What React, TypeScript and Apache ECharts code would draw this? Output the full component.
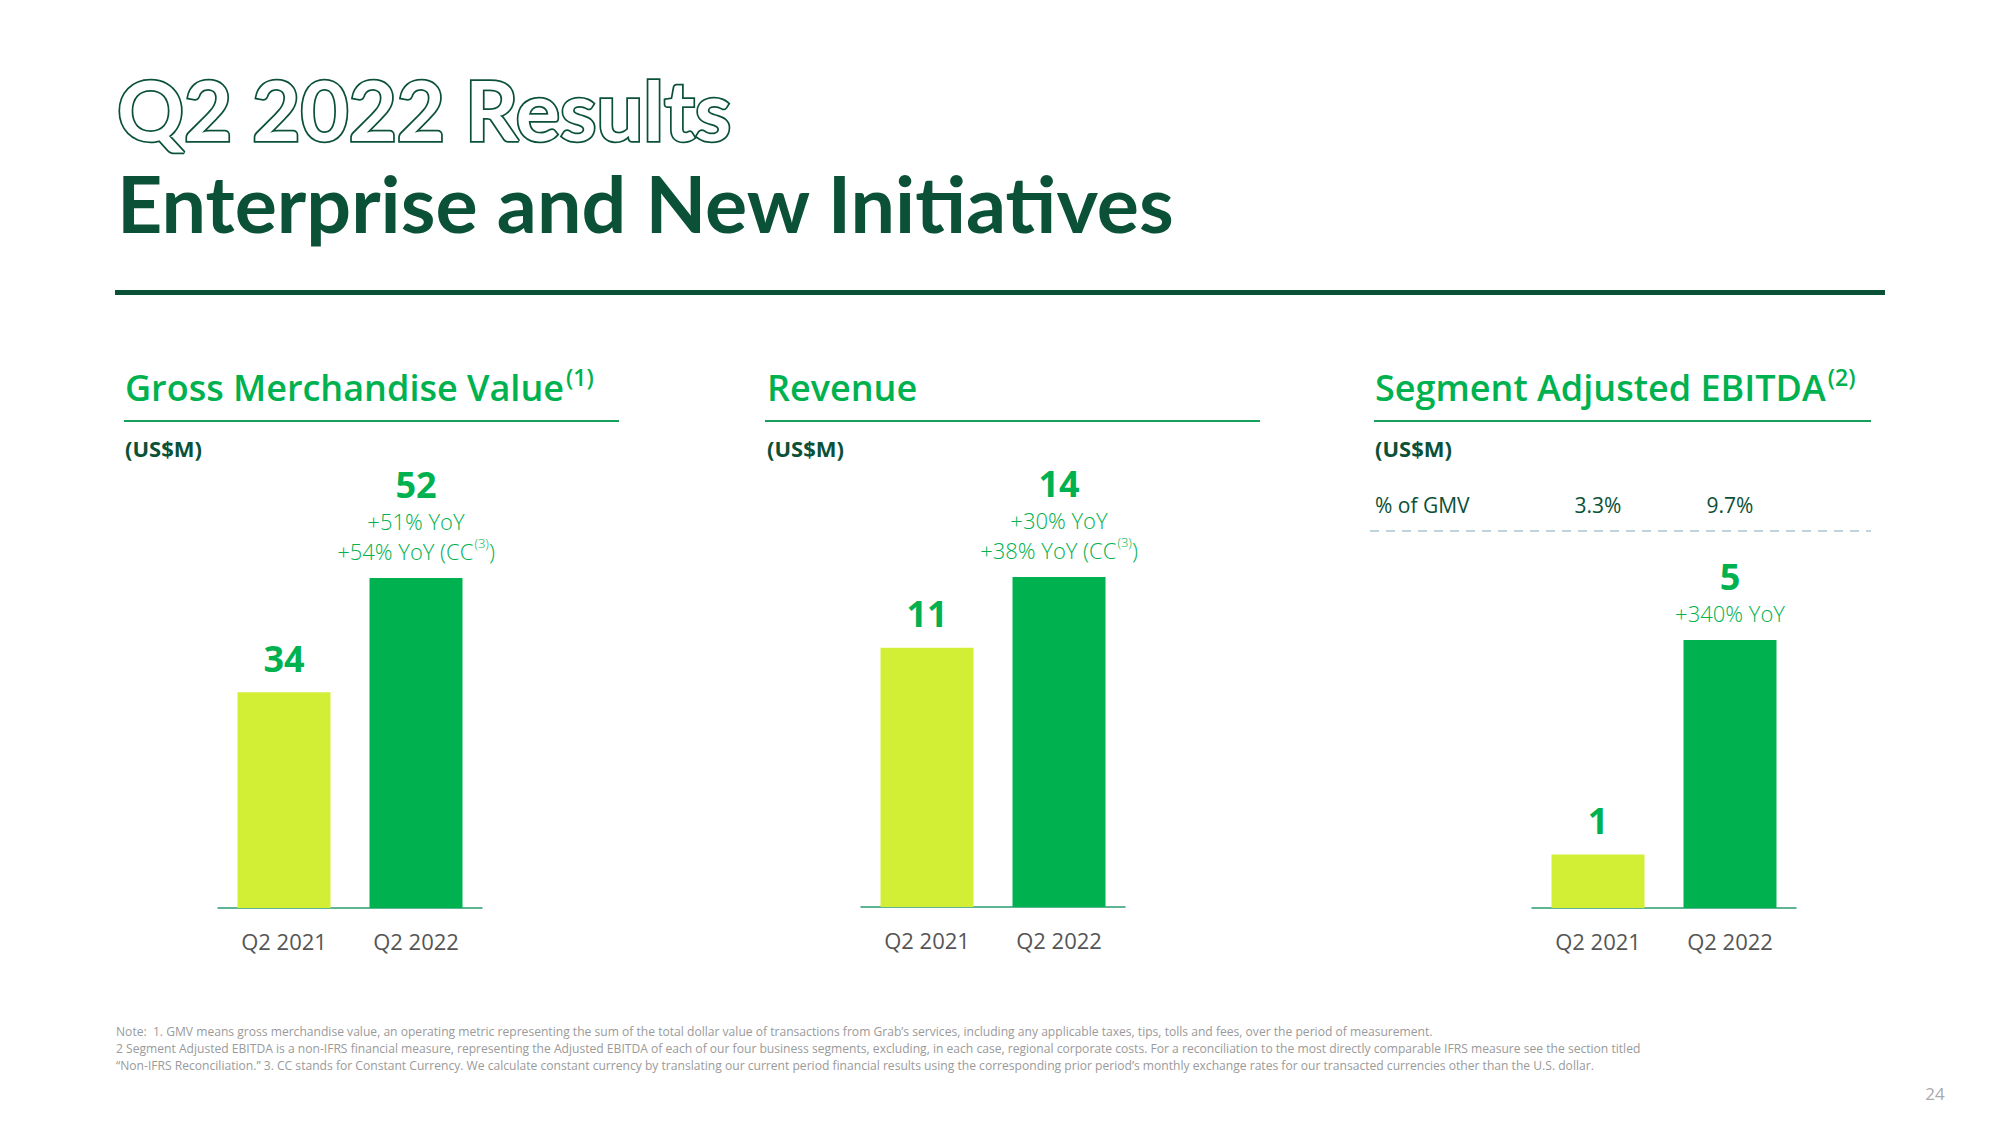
import React, { useEffect, useRef } from "react";
import * as echarts from "echarts";

// ---------- data ----------
const categories = ["Q2 2021", "Q2 2022"];
const gmvValues = [34, 52];
const revenueValues = [11, 14];
const ebitdaValues = [1, 5];
const gmvGrowth = "+51% YoY";
const gmvGrowthCC = "+54% YoY";
const revenueGrowth = "+30% YoY";
const revenueGrowthCC = "+38% YoY";
const ebitdaGrowth = "+340% YoY";
const pctOfGmv = ["3.3%", "9.7%"];

const titleLine1 = "Q2 2022 Results";
const titleLine2 = "Enterprise and New Initiatives";
const panelTitles = ["Gross Merchandise Value", "Revenue", "Segment Adjusted EBITDA"];
const panelSup = ["(1)", "", "(2)"];
const unitLabel = "(US$M)";
const pctRowLabel = "% of GMV";
const footnotes = [
  "Note:  1. GMV means gross merchandise value, an operating metric representing the sum of the total dollar value of transactions from Grab\u2019s services, including any applicable taxes, tips, tolls and fees, over the period of measurement.",
  "2 Segment Adjusted EBITDA is a non-IFRS financial measure, representing the Adjusted EBITDA of each of our four business segments, excluding, in each case, regional corporate costs. For a reconciliation to the most directly comparable IFRS measure see the section titled",
  "\u201CNon-IFRS Reconciliation.\u201D 3. CC stands for Constant Currency. We calculate constant currency by translating our current period financial results using the corresponding prior period\u2019s monthly exchange rates for our transacted currencies other than the U.S. dollar.",
];
const pageNumber = "24";

// ---------- styles ----------
const DARK = "#0b5137";
const GREEN = "#00b14f";
const LIME = "#d3ef35";
const HEAD_FONT = "Lato, 'Open Sans', sans-serif";
const BODY_FONT = "'Open Sans', 'Noto Sans', sans-serif";
const barColors = [LIME, GREEN];

const rich = {
  v: { fontSize: 36, fontWeight: "bold", color: GREEN, lineHeight: 44, fontFamily: BODY_FONT },
  y: { fontSize: 22, fontWeight: 300, color: GREEN, lineHeight: 30, fontFamily: BODY_FONT },
  s: { fontSize: 13, fontWeight: 300, color: GREEN, lineHeight: 13, verticalAlign: "top", fontFamily: BODY_FONT, padding: [0, 0, 0, 1] },
};

function barData(values: number[], topLines: string[]) {
  return values.map((v, i) => ({
    value: v,
    itemStyle: { color: barColors[i] },
    label: {
      show: true,
      position: "top",
      distance: 12,
      align: "center",
      formatter: [`{v|${v}}`, ...(i === values.length - 1 ? topLines : [])].join("\n"),
      rich,
    },
  }));
}

const grids = [
  { left: 218, width: 264, top: 578, height: 330 },
  { left: 861, width: 264, top: 577, height: 330 },
  { left: 1532, width: 264, top: 640, height: 268 },
];
const seriesValues = [gmvValues, revenueValues, ebitdaValues];
const seriesTop = [
  [`{y|${gmvGrowth}}`, `{y|${gmvGrowthCC} (CC}{s|(3)}{y|)}`],
  [`{y|${revenueGrowth}}`, `{y|${revenueGrowthCC} (CC}{s|(3)}{y|)}`],
  [`{y|${ebitdaGrowth}}`],
];

const panelX = [125, 767, 1375];

function buildOption() {
  const xAxes: any[] = grids.map((_, gi) => ({
    type: "category",
    gridIndex: gi,
    data: categories,
    axisLine: { show: true, lineStyle: { color: "#2a9d70", width: 1.5 } },
    axisTick: { show: false },
    axisLabel: { color: "#555555", fontSize: 22, margin: 22, fontFamily: BODY_FONT },
  }));
  xAxes.push({
    type: "category",
    gridIndex: 2,
    position: "top",
    data: pctOfGmv,
    axisLine: { show: false },
    axisTick: { show: false },
    axisLabel: { color: DARK, fontSize: 21, margin: 125, fontFamily: BODY_FONT },
  });
  const yAxes = grids.map((_, gi) => ({
    type: "value",
    gridIndex: gi,
    min: 0,
    max: Math.max(...seriesValues[gi]),
    show: false,
    splitLine: { show: false },
  }));
  const series = grids.map((_, gi) => ({
    type: "bar",
    xAxisIndex: gi,
    yAxisIndex: gi,
    barWidth: 93,
    data: barData(seriesValues[gi], seriesTop[gi]),
  }));

  const graphic: any[] = [
    {
      type: "text",
      x: 117,
      y: 109,
      style: {
        text: titleLine1,
        fontSize: 83,
        fontWeight: "bold",
        fontFamily: HEAD_FONT,
        fill: "#ffffff",
        stroke: DARK,
        lineWidth: 3.5,
        verticalAlign: "middle",
      },
    },
    {
      type: "text",
      x: 117,
      y: 202,
      style: {
        text: titleLine2,
        fontSize: 79,
        fontWeight: "bold",
        fontFamily: HEAD_FONT,
        fill: DARK,
        verticalAlign: "middle",
      },
    },
    { type: "rect", shape: { x: 115, y: 290, width: 1770, height: 5 }, style: { fill: DARK } },
  ];
  const underlines = [
    [124, 619],
    [765, 1260],
    [1374, 1871],
  ];
  panelTitles.forEach((t, i) => {
    graphic.push({
      type: "text",
      x: panelX[i],
      y: 387,
      style: {
        text: panelSup[i] ? `{h|${t}}{p|${panelSup[i]}}` : `{h|${t}}`,
        rich: {
          h: { fontSize: 36, fontWeight: 600, fill: GREEN, fontFamily: BODY_FONT, lineHeight: 44 },
          p: { fontSize: 23, fontWeight: 600, fill: GREEN, fontFamily: BODY_FONT, lineHeight: 23, verticalAlign: "top", padding: [0, 0, 0, 2] },
        },
        verticalAlign: "middle",
      },
    });
    graphic.push({
      type: "line",
      shape: { x1: underlines[i][0], y1: 421, x2: underlines[i][1], y2: 421 },
      style: { stroke: "#16a05c", lineWidth: 2 },
    });
    graphic.push({
      type: "text",
      x: panelX[i],
      y: 448,
      style: { text: unitLabel, fontSize: 22, fontWeight: "bold", fill: DARK, fontFamily: BODY_FONT, verticalAlign: "middle" },
    });
  });
  graphic.push({
    type: "text",
    x: 1375,
    y: 505,
    style: { text: pctRowLabel, fontSize: 21, fill: DARK, fontFamily: BODY_FONT, verticalAlign: "middle" },
  });
  graphic.push({
    type: "line",
    shape: { x1: 1370, y1: 531, x2: 1871, y2: 531 },
    style: { stroke: "#a9c9cf", lineWidth: 1.5, lineDash: [9, 7] },
  });
  footnotes.forEach((f, i) => {
    graphic.push({
      type: "text",
      x: 116,
      y: 1031 + i * 17,
      style: { text: f, fontSize: 12.1, fill: "#9a9a9a", fontFamily: BODY_FONT, verticalAlign: "middle" },
    });
  });
  graphic.push({
    type: "text",
    x: 1935,
    y: 1093,
    style: { text: pageNumber, fontSize: 17, fill: "#aaaaaa", fontFamily: BODY_FONT, align: "center", verticalAlign: "middle" },
  });

  return {
    animation: false,
    backgroundColor: "#ffffff",
    grid: grids,
    xAxis: xAxes,
    yAxis: yAxes,
    series,
    graphic,
  };
}

export default function App() {
  const ref = useRef<HTMLDivElement>(null);
  useEffect(() => {
    document.body.style.margin = "0";
    const chart = echarts.init(ref.current as HTMLDivElement, null, { renderer: "svg", width: 2000, height: 1125 });
    chart.setOption(buildOption() as any);
    return () => chart.dispose();
  }, []);
  return <div ref={ref} style={{ width: 2000, height: 1125, background: "#fff" }} />;
}
